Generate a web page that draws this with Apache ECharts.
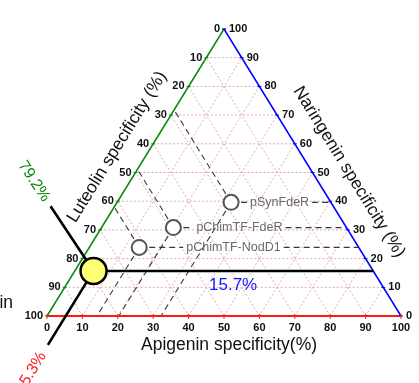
<!DOCTYPE html>
<html><head><meta charset="utf-8">
<script src="https://cdn.jsdelivr.net/npm/echarts@6/dist/echarts.min.js"></script>
<style>html,body{margin:0;padding:0;background:#fff}#c{width:419px;height:383px}</style>
</head><body><div id="c"></div>
<script>
// ---- data ----
const tickValues = [0, 10, 20, 30, 40, 50, 60, 70, 80, 90, 100];
const sampleNames = ['pSynFdeR', 'pChimTF-FdeR', 'pChimTF-NodD1'];
const sampleApigenin = [32.2, 20.3, 14.1];
const sampleNaringenin = [39.6, 30.8, 23.9];
const sampleLuteolin = [28.2, 48.9, 62.0];
const highlightApigenin = 5.3;
const highlightNaringenin = 15.7;
const highlightLuteolin = 79.2;
const titleApigenin = 'Apigenin specificity(%)';
const titleNaringenin = 'Naringenin specificity (%)';
const titleLuteolin = 'Luteolin specificity (%)';

// ---- layout (not data) ----
const labelGap = [19, 23, 47];
const FONT = '"Liberation Sans", Arial, sans-serif';

// ternary (apigenin, naringenin) -> cartesian
function tern(a, n) { return [a + n / 2, n]; }

const measureCtx = document.createElement('canvas').getContext('2d');
function textWidth(t, font) { measureCtx.font = font; return measureCtx.measureText(t).width; }

function renderItem(params, api) {
  if (params.dataIndex !== 0) return;
  const P = (a, n) => api.coord(tern(a, n));
  const ch = [];
  const seg = (p, q, style) => ch.push({ type: 'line', shape: { x1: p[0], y1: p[1], x2: q[0], y2: q[1] }, style: style });
  const txt = (x, y, text, st, rot) => ch.push({ type: 'text', x: x, y: y, rotation: rot || 0,
    style: Object.assign({ text: text, align: 'center', verticalAlign: 'middle' }, st) });

  // grid
  const gridStyle = { stroke: '#e6a9a9', lineWidth: 1, lineDash: [2, 2] };
  tickValues.forEach(k => {
    if (k === 0 || k === 100) return;
    seg(P(0, k), P(100 - k, k), gridStyle);
    seg(P(k, 0), P(k, 100 - k), gridStyle);
    seg(P(100 - k, 0), P(0, 100 - k), gridStyle);
  });

  // sample guide lines
  const dash = { stroke: '#383838', lineWidth: 1.1, lineDash: [6, 4] };
  const labFont = '12.5px ' + FONT;
  sampleNames.forEach((name, i) => {
    const a = sampleApigenin[i], n = sampleNaringenin[i];
    const c = P(a, n);
    seg(c, P(0, 100 - sampleLuteolin[i]), dash);
    seg(c, P(a, 0), dash);
    const lx = c[0] + labelGap[i];
    const w = textWidth(name, labFont);
    seg(c, [lx - 3, c[1]], dash);
    seg([lx + w + 3, c[1]], P(100 - n, n), dash);
    ch.push({ type: 'text', x: lx, y: c[1], style: { text: name, font: labFont, fill: '#6b6b6b', align: 'left', verticalAlign: 'middle' } });
  });

  // axes
  const bl = P(0, 0), br = P(100, 0), tp = P(0, 100);
  seg(bl, tp, { stroke: '#0a8a0a', lineWidth: 1.5 });
  seg(br, tp, { stroke: '#0000ff', lineWidth: 1.5 });
  seg(bl, br, { stroke: '#ff1a1a', lineWidth: 2 });
  const tickFont = 'bold 11px ' + FONT;
  tickValues.forEach(k => {
    const pb = P(k, 0);
    seg([pb[0], pb[1] - 2], [pb[0], pb[1] + 3], { stroke: '#ff1a1a', lineWidth: 1 });
    txt(pb[0], pb[1] + 12, String(k), { font: tickFont, fill: '#111' });
    const pr = P(100 - k, k);
    seg([pr[0] - 2, pr[1]], [pr[0] + 2, pr[1]], { stroke: '#0000ff', lineWidth: 1 });
    ch.push({ type: 'text', x: pr[0] + 5, y: pr[1], style: { text: String(k), font: tickFont, fill: '#111', align: 'left', verticalAlign: 'middle' } });
    const pl = P(0, 100 - k);
    seg([pl[0] - 2, pl[1]], [pl[0] + 2, pl[1]], { stroke: '#0a8a0a', lineWidth: 1 });
    ch.push({ type: 'text', x: pl[0] - 4, y: pl[1], style: { text: String(k), font: tickFont, fill: '#111', align: 'right', verticalAlign: 'middle' } });
  });

  // axis titles
  const angL = Math.atan2(-(tp[1] - bl[1]), tp[0] - bl[0]);
  const angR = Math.atan2(-(br[1] - tp[1]), br[0] - tp[0]);
  const titleFont = '17.5px ' + FONT;
  txt(229, 345, titleApigenin, { font: titleFont, fill: '#111' });
  txt(117, 147, titleLuteolin, { font: titleFont, fill: '#111' }, angL);
  txt(349, 172, titleNaringenin, { font: titleFont, fill: '#111' }, angR);
  ch.push({ type: 'text', x: 13, y: 303, style: { text: 'in', font: titleFont, fill: '#111', align: 'right', verticalAlign: 'middle' } });

  // highlight lines
  const ha = highlightApigenin, hn = highlightNaringenin;
  const hc = P(ha, hn);
  const black = { stroke: '#000', lineWidth: 2.6 };
  seg(hc, P(100 - hn, hn), black);
  const eL = P(0, 100 - highlightLuteolin);
  let dx = eL[0] - hc[0], dy = eL[1] - hc[1], len = Math.hypot(dx, dy);
  const endL = [eL[0] + dx / len * 60, eL[1] + dy / len * 60];
  seg(hc, endL, black);
  txt(endL[0] + dx / len * 30, endL[1] + dy / len * 30, highlightLuteolin.toFixed(1) + '%',
      { font: '16px ' + FONT, fill: '#0a8a0a' }, Math.atan2(dy, -dx));
  const eA = P(ha, 0);
  dx = eA[0] - hc[0]; dy = eA[1] - hc[1]; len = Math.hypot(dx, dy);
  const endA = [eA[0] + dx / len * 34, eA[1] + dy / len * 34];
  seg(hc, endA, black);
  txt(endA[0] + dx / len * 28, endA[1] + dy / len * 28, highlightApigenin.toFixed(1) + '%',
      { font: '16px ' + FONT, fill: '#ff1a1a' }, Math.atan2(dy, -dx));
  ch.push({ type: 'text', x: 209, y: hc[1] + 14, style: { text: highlightNaringenin.toFixed(1) + '%', font: '17px ' + FONT, fill: '#1414ff', align: 'left', verticalAlign: 'middle' } });

  return { type: 'group', children: ch };
}

const chart = echarts.init(document.getElementById('c'), null, { renderer: 'canvas' });
chart.setOption({
  animation: false,
  grid: { left: 47, right: 18, top: 29, bottom: 67 },
  xAxis: { type: 'value', min: 0, max: 100, show: false },
  yAxis: { type: 'value', min: 0, max: 100, show: false },
  series: [
    { type: 'custom', renderItem: renderItem, data: [0], z: 2, clip: false, silent: true },
    { type: 'scatter', z: 3, symbolSize: 15,
      data: sampleApigenin.map((a, i) => tern(a, sampleNaringenin[i])),
      itemStyle: { color: '#fff', borderColor: '#555', borderWidth: 2, opacity: 1 } },
    { type: 'scatter', z: 4, symbolSize: 26,
      data: [tern(highlightApigenin, highlightNaringenin)],
      itemStyle: { color: '#ffff77', borderColor: '#000', borderWidth: 2.5, opacity: 1 } }
  ]
});
</script></body></html>
